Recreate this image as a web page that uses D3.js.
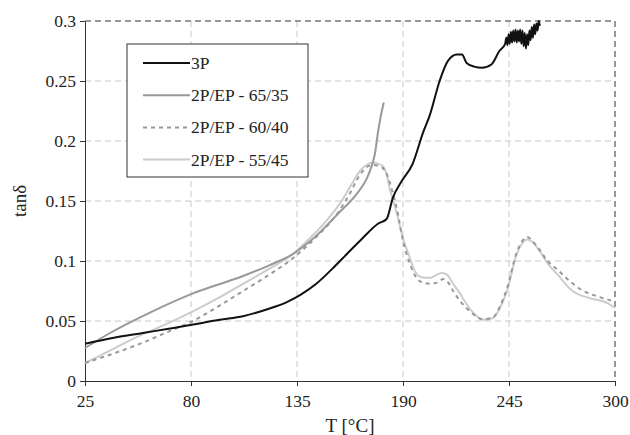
<!DOCTYPE html>
<html lang="en">
<head>
    <meta charset="UTF-8">
    <title>tan delta</title>
    <script src="https://d3js.org/d3.v7.min.js"></script>
    <style>
        body { margin: 0; background: #fff; }
        text { font-family: "Liberation Serif", "Times New Roman", serif; fill: #222; }
    </style>
</head>
<body>
<script>
    const width  = 630;
    const height = 435;
    const margin = {top: 21, right: 15, bottom: 54, left: 85};

    const xTicks = [25, 80, 135, 190, 245, 300];
    const yTicks = [0, 0.05, 0.1, 0.15, 0.2, 0.25, 0.3];
    const yTickLabels = ["0", "0.05", "0.1", "0.15", "0.2", "0.25", "0.3"];

    const seriesNames = ["3P", "2P/EP - 65/35", "2P/EP - 60/40", "2P/EP - 55/45"];

    // [T, tan delta]
    const p3 = [
        [25, 0.031], [40, 0.036], [55, 0.040], [70, 0.044], [81, 0.047], [95, 0.051],
        [107, 0.054], [120, 0.060], [130, 0.066], [137, 0.072], [145, 0.081],
        [153, 0.093], [161, 0.106], [169, 0.119], [177, 0.131], [181.5, 0.135],
        [184.8, 0.153], [189.5, 0.167], [195, 0.181], [200.4, 0.207], [204, 0.222],
        [209, 0.250], [213.4, 0.267], [218, 0.272], [220.6, 0.272], [223, 0.265],
        [227, 0.262], [231, 0.261], [236, 0.264], [240, 0.275], [243, 0.281],
        [243.6, 0.286], [244.2, 0.280], [244.8, 0.289], [245.4, 0.281], [246, 0.291],
        [246.6, 0.282], [247.2, 0.292], [247.8, 0.283], [248.4, 0.293], [249, 0.282],
        [249.6, 0.292], [250.2, 0.283], [250.8, 0.293], [251.4, 0.281], [252, 0.292],
        [252.6, 0.279], [253.2, 0.290], [253.8, 0.277], [254.4, 0.289], [255, 0.280],
        [255.6, 0.292], [256.2, 0.284], [256.8, 0.295], [257.4, 0.286], [258, 0.297],
        [258.6, 0.289], [259.2, 0.298], [259.8, 0.292], [260.4, 0.300], [261, 0.296]
    ];
    const p6535 = [
        [25, 0.0275], [38, 0.040], [58.7, 0.057], [81, 0.073], [107, 0.0875],
        [120, 0.096], [133, 0.106], [145, 0.121], [156, 0.139], [166, 0.156],
        [171, 0.168], [173.5, 0.178], [175.5, 0.190], [177, 0.207], [178.5, 0.221],
        [180, 0.232]
    ];
    const p6040 = [
        [25, 0.015], [40, 0.023], [55, 0.032], [68, 0.041], [81, 0.050], [94, 0.062],
        [107, 0.075], [120, 0.088], [133, 0.1025], [145, 0.120], [157, 0.142],
        [163, 0.158], [167.7, 0.172], [174, 0.180], [178, 0.179], [181.7, 0.172],
        [184.5, 0.158], [187, 0.142], [190, 0.117], [193.6, 0.0975], [197, 0.086],
        [200.4, 0.082], [204, 0.081], [207.6, 0.082], [211, 0.085], [213.5, 0.082],
        [216, 0.075], [220, 0.066], [224.8, 0.058], [231.5, 0.0515], [236.7, 0.053],
        [240, 0.061], [244, 0.0775], [249, 0.107], [252, 0.117], [254.5, 0.120],
        [257, 0.117], [261, 0.109], [265, 0.100], [270, 0.093], [276, 0.084],
        [283.6, 0.075], [290, 0.071], [296, 0.068], [300, 0.066]
    ];
    const p5545 = [
        [25, 0.015], [40, 0.027], [55, 0.039], [68, 0.048], [81, 0.058], [94, 0.069],
        [107, 0.081], [120, 0.093], [133, 0.106], [141.7, 0.119], [150, 0.133],
        [157.3, 0.148], [163, 0.163], [167.7, 0.175], [171, 0.180], [174.4, 0.182],
        [177, 0.181], [179.6, 0.179], [181.5, 0.172], [183, 0.161], [186.9, 0.139],
        [190, 0.119], [193.6, 0.1025], [196, 0.092], [198.8, 0.087], [201.5, 0.086],
        [204, 0.086], [207, 0.088], [210, 0.090], [212.5, 0.089], [216, 0.081],
        [219.5, 0.073], [223, 0.064], [227, 0.056], [231.5, 0.051], [236.7, 0.0525],
        [240, 0.060], [244, 0.075], [249, 0.106], [252, 0.115], [254.3, 0.118],
        [257, 0.116], [261, 0.108], [265, 0.098], [270, 0.089], [278, 0.075],
        [287, 0.069], [296, 0.065], [298.5, 0.0625], [300, 0.061]
    ];

    const seriesData = [p3, p6535, p6040, p5545];
    const seriesColors = ["#111111", "#999999", "#999999", "#cccccc"];
    const seriesDash = [null, null, "4,4", null];

    const innerW = width - margin.left - margin.right;
    const innerH = height - margin.top - margin.bottom;

    const x = d3.scaleLinear().domain([25, 300]).range([0, innerW]);
    const y = d3.scaleLinear().domain([0, 0.3]).range([innerH, 0]);

    const svg = d3.select("body").append("svg").attr("width", width).attr("height", height);
    const g = svg.append("g").attr("transform", `translate(${margin.left},${margin.top})`);

    // grid
    g.selectAll(".vgrid")
        .data(xTicks.slice(1, -1))
        .enter()
        .append("line")
        .attr("x1", d => x(d)).attr("x2", d => x(d))
        .attr("y1", 0).attr("y2", innerH)
        .attr("stroke", "#c8c8c8")
        .attr("stroke-dasharray", "6,4");
    g.selectAll(".hgrid")
        .data(yTicks.slice(1, -1))
        .enter()
        .append("line")
        .attr("x1", 0).attr("x2", innerW)
        .attr("y1", d => y(d)).attr("y2", d => y(d))
        .attr("stroke", "#c8c8c8")
        .attr("stroke-dasharray", "6,4");

    // dashed top & right frame
    g.append("line").attr("x1", 0).attr("x2", innerW).attr("y1", 0).attr("y2", 0)
        .attr("stroke", "#333").attr("stroke-dasharray", "6,4");
    g.append("line").attr("x1", innerW).attr("x2", innerW).attr("y1", 0).attr("y2", innerH)
        .attr("stroke", "#333").attr("stroke-dasharray", "6,4");

    // axes
    const xAxis = g.append("g")
        .attr("transform", `translate(0,${innerH})`)
        .call(d3.axisBottom(x).tickValues(xTicks).tickSize(5).tickPadding(9).tickSizeOuter(0));
    const yAxis = g.append("g")
        .call(d3.axisLeft(y).tickValues(yTicks).tickFormat((d, i) => yTickLabels[i])
            .tickSize(5).tickPadding(4).tickSizeOuter(0));
    [xAxis, yAxis].forEach(a => {
        a.select(".domain").attr("stroke", "#333");
        a.selectAll(".tick line").attr("stroke", "#333");
        a.selectAll("text").attr("font-size", 17.5).attr("font-family", "Liberation Serif").attr("fill", "#222");
    });

    // lines
    const line = d3.line()
        .x(d => x(d[0]))
        .y(d => y(d[1]))
        .curve(d3.curveMonotoneX);

    const order = [3, 2, 1, 0];
    order.forEach(i => {
        g.append("path")
            .attr("d", line(seriesData[i]))
            .attr("fill", "none")
            .attr("stroke", seriesColors[i])
            .attr("stroke-width", 2)
            .attr("stroke-dasharray", seriesDash[i]);
    });

    // axis titles
    svg.append("text")
        .attr("x", margin.left + innerW / 2)
        .attr("y", 432)
        .attr("text-anchor", "middle")
        .attr("font-size", 19)
        .text("T [°C]");
    svg.append("text")
        .attr("transform", `translate(26,${margin.top + innerH / 2}) rotate(-90)`)
        .attr("text-anchor", "middle")
        .attr("font-size", 19)
        .text("tanδ");

    // legend
    const leg = svg.append("g").attr("transform", "translate(127,44)");
    leg.append("rect")
        .attr("width", 181).attr("height", 133)
        .attr("fill", "#fff").attr("stroke", "#333");
    seriesNames.forEach((name, i) => {
        const row = leg.append("g").attr("transform", `translate(0,${19 + i * 32.2})`);
        row.append("line")
            .attr("x1", 16).attr("x2", 63)
            .attr("stroke", seriesColors[i])
            .attr("stroke-width", 2)
            .attr("stroke-dasharray", seriesDash[i]);
        row.append("text")
            .attr("x", 64).attr("y", 6)
            .attr("font-size", 17.5)
            .text(name);
    });
</script>
</body>
</html>
